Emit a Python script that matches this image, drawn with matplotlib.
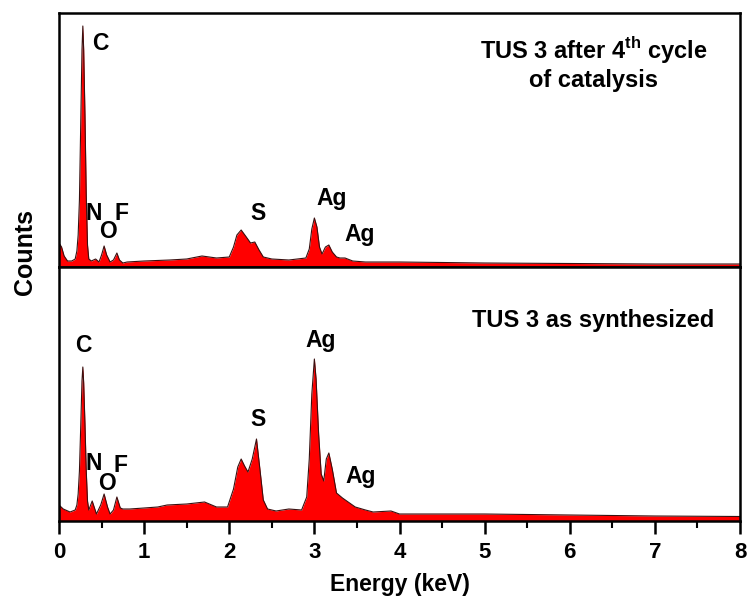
import matplotlib
matplotlib.use('Agg')
from matplotlib import pyplot as plt
import numpy as np

# spectrum (energy in keV, counts in arbitrary units)
energy_after = [0.00, 0.03, 0.06, 0.10, 0.15, 0.19, 0.21, 0.225, 0.24, 0.255, 0.27, 0.28,
                0.29, 0.305, 0.32, 0.335, 0.35, 0.38, 0.43, 0.47, 0.50, 0.53, 0.56, 0.60,
                0.64, 0.68, 0.71, 0.75, 0.80, 1.0, 1.3, 1.5, 1.68, 1.85, 2.0, 2.05,
                2.09, 2.14, 2.20, 2.25, 2.30, 2.35, 2.40, 2.5, 2.7, 2.9, 2.94, 2.97,
                3.00, 3.03, 3.06, 3.09, 3.13, 3.17, 3.21, 3.26, 3.30, 3.36, 3.45, 3.6,
                4.0, 5.0, 6.0, 7.0, 8.0]
counts_after = [22, 18, 9, 4, 4, 6, 14, 30, 65, 140, 215, 239,
                215, 150, 70, 20, 6, 4, 6, 3, 10, 19, 10, 3,
                5, 12, 5, 2, 3, 4, 5, 6, 9, 7, 8, 18,
                30, 35, 28, 22, 23, 15, 8, 6, 5, 7, 16, 36,
                47, 38, 18, 11, 18, 20, 13, 8, 7, 7, 4, 3,
                3, 2, 1.5, 1, 1]

energy_synth = [0.00, 0.05, 0.13, 0.19, 0.21, 0.225, 0.24, 0.255, 0.27, 0.28, 0.29, 0.305,
                0.32, 0.335, 0.35, 0.39, 0.44, 0.49, 0.53, 0.57, 0.60, 0.64, 0.68, 0.72,
                0.75, 0.83, 1.0, 1.16, 1.27, 1.5, 1.71, 1.85, 1.98, 2.05, 2.10,
                2.14, 2.18, 2.22, 2.27, 2.32, 2.36, 2.40, 2.45, 2.55, 2.7, 2.85, 2.91,
                2.94, 2.97, 3.00, 3.02, 3.05, 3.08, 3.11, 3.14, 3.17, 3.21, 3.26, 3.33,
                3.38, 3.48, 3.6, 3.69, 3.9, 4.0, 4.5, 5.0, 6.0, 7.0, 8.0]
counts_synth = [14, 10, 7, 9, 14, 25, 48, 92, 138, 152, 136, 95,
                48, 18, 9, 18, 5, 14, 25, 12, 5, 9, 22, 11,
                10, 10, 11, 12, 14, 15, 17, 12, 12, 30, 52,
                60, 53, 47, 60, 80, 50, 19, 10, 8, 10, 9, 22,
                60, 125, 160, 140, 85, 45, 38, 60, 66, 50, 26, 21,
                18, 12, 9, 7, 8, 5, 5, 5, 4, 3, 2.5]

# peak labels: (text, energy, counts)
labels_after = [('C', 0.49, 222), ('N', 0.41, 51), ('O', 0.57, 33), ('F', 0.74, 51),
                ('S', 2.34, 51), ('Ag', 3.2, 66), ('Ag', 3.53, 31)]
labels_synth = [('C', 0.28, 173), ('N', 0.41, 55), ('O', 0.56, 35), ('F', 0.72, 53),
                ('S', 2.34, 100), ('Ag', 3.07, 178), ('Ag', 3.54, 42)]

plt.rcParams['font.family'] = ['Liberation Sans', 'DejaVu Sans']
plt.rcParams['font.weight'] = 'bold'
plt.rcParams['mathtext.fontset'] = 'custom'
plt.rcParams['mathtext.bf'] = 'Liberation Sans:bold'
plt.rcParams['mathtext.rm'] = 'Liberation Sans:bold'

fig = plt.figure(figsize=(7.52, 6.03), dpi=100)
ax_top = fig.add_axes([59/752, 1-267/603, 681/752, 254/603])
ax_bot = fig.add_axes([59/752, 1-521/603, 681/752, 254/603])

for ax, e, c, labs in [(ax_top, energy_after, counts_after, labels_after),
                       (ax_bot, energy_synth, counts_synth, labels_synth)]:
    ax.fill_between(e, c, -2, color='#ff0000', lw=0)
    ax.plot(e, c, color='#3a1010', lw=0.8)
    ax.set_xlim(0, 8)
    ax.set_ylim(-2, 252)
    ax.set_yticks([])
    for s in ax.spines.values():
        s.set_linewidth(1.8)
    for t, x, y in labs:
        ax.text(x, y, t, fontsize=16.5, fontweight='bold', ha='center', va='center')

ax_top.set_xticks([])
ax_top.text(0.785, 0.855, 'TUS 3 after 4$^{\\mathbf{th}}$ cycle', transform=ax_top.transAxes,
            fontsize=17, fontweight='bold', ha='center', va='center')
ax_top.text(0.785, 0.735, 'of catalysis', transform=ax_top.transAxes,
            fontsize=17, fontweight='bold', ha='center', va='center')
ax_bot.text(0.785, 0.79, 'TUS 3 as synthesized', transform=ax_bot.transAxes,
            fontsize=17, fontweight='bold', ha='center', va='center')

ax_bot.set_xticks(np.arange(0, 9, 1))
ax_bot.set_xticks(np.arange(0.5, 8, 1), minor=True)
ax_bot.tick_params(axis='x', which='major', direction='out', length=9, width=1.8,
                   labelsize=16, pad=6)
ax_bot.tick_params(axis='x', which='minor', direction='out', length=5, width=1.5)
for lab in ax_bot.get_xticklabels():
    lab.set_fontweight('bold')
ax_bot.set_xlabel('Energy (keV)', fontsize=16.5, fontweight='bold', labelpad=7)

fig.text(25/752, 1-252/603, 'Counts', rotation=90, fontsize=18, fontweight='bold',
         ha='center', va='center')

fig.savefig('out.png', dpi=100)
